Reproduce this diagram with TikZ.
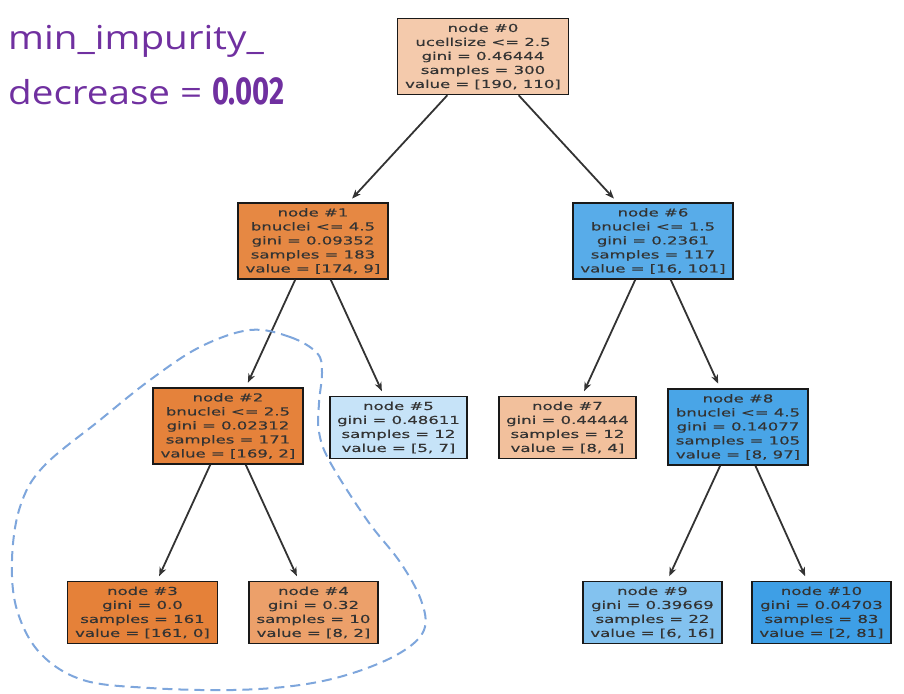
\documentclass[tikz,border=0pt]{standalone}
\usepackage{fontspec}
\usetikzlibrary{arrows.meta}
\newfontfamily\treefont[FakeStretch=1.5,FakeBold=0.4]{DejaVu Sans}
\newfontfamily\notefont[FakeStretch=1.17]{Open Sans}
\newfontfamily\numfont[FakeStretch=0.75]{Fira Sans}
\definecolor{notepurple}{HTML}{7030A0}
\definecolor{edgegray}{HTML}{333333}
\definecolor{blobblue}{HTML}{7EA6DC}
\definecolor{c0}{HTML}{F4CAAC}
\definecolor{c1}{HTML}{E68843}
\definecolor{c2}{HTML}{E5823B}
\definecolor{c3}{HTML}{E58139}
\definecolor{c4}{HTML}{ECA06A}
\definecolor{c5}{HTML}{C6E3F8}
\definecolor{c6}{HTML}{58ACE9}
\definecolor{c7}{HTML}{F2C09C}
\definecolor{c8}{HTML}{49A5E7}
\definecolor{c9}{HTML}{83C2EF}
\definecolor{c10}{HTML}{3E9FE6}
\tikzset{
  treebox/.style={draw=black!90, line width=1.7pt, align=center, text=black!80,
    inner xsep=7.5pt, inner ysep=5pt,
    font=\treefont\fontsize{11}{14}\selectfont},
  treeedge/.style={draw=edgegray, line width=1.8pt, shorten >=5pt,
    -{Stealth[length=9pt,width=7pt]}},
  note/.style={text=notepurple, anchor=base west, inner sep=0pt}
}
\begin{document}
\begin{tikzpicture}[x=1pt,y=-1pt]
\useasboundingbox (0,0) rectangle (904,693);

% heading
\node[note, font=\notefont\fontsize{33}{33}\selectfont] (h1) at (8,49) {min\_impurity\_};
\node[note, font=\notefont\fontsize{33}{33}\selectfont] (h2) at (8,104)
  {decrease = {\numfont\bfseries\fontsize{39}{39}\selectfont 0.002}};

% tree nodes
\node[treebox, fill=c0] (n0) at (483,56.5) {node \#0\\ucellsize <= 2.5\\gini = 0.46444\\samples = 300\\value = [190, 110]};
\node[treebox, fill=c1] (n1) at (313,241) {node \#1\\bnuclei <= 4.5\\gini = 0.09352\\samples = 183\\value = [174, 9]};
\node[treebox, fill=c6] (n6) at (653,241) {node \#6\\bnuclei <= 1.5\\gini = 0.2361\\samples = 117\\value = [16, 101]};
\node[treebox, fill=c2] (n2) at (228,426) {node \#2\\bnuclei <= 2.5\\gini = 0.02312\\samples = 171\\value = [169, 2]};
\node[treebox, fill=c5] (n5) at (398.5,427.5) {node \#5\\gini = 0.48611\\samples = 12\\value = [5, 7]};
\node[treebox, fill=c7] (n7) at (567.5,427.5) {node \#7\\gini = 0.44444\\samples = 12\\value = [8, 4]};
\node[treebox, fill=c8] (n8) at (738,427) {node \#8\\bnuclei <= 4.5\\gini = 0.14077\\samples = 105\\value = [8, 97]};
\node[treebox, fill=c3] (n3) at (142.5,612.5) {node \#3\\gini = 0.0\\samples = 161\\value = [161, 0]};
\node[treebox, fill=c4] (n4) at (313.5,612.5) {node \#4\\gini = 0.32\\samples = 10\\value = [8, 2]};
\node[treebox, fill=c9] (n9) at (652.5,612.5) {node \#9\\gini = 0.39669\\samples = 22\\value = [6, 16]};
\node[treebox, fill=c10] (n10) at (821.5,612.5) {node \#10\\gini = 0.04703\\samples = 83\\value = [2, 81]};

% edges
\foreach \p/\c in {n0/n1, n0/n6, n1/n2, n1/n5, n6/n7, n6/n8, n2/n3, n2/n4, n8/n9, n8/n10}
  \draw[treeedge] (\p) -- (\c);

% dashed outline around the left subtree
\draw[blobblue, line width=2pt, dash pattern=on 10pt off 6pt]
  plot[smooth cycle, tension=0.6] coordinates {
    (250,330) (290,337) (317,353) (322,372) (319,403) (319,432) (330,462)
    (367,520) (400,562) (421,600) (424,630) (400,653) (353,673) (300,685)
    (233,690) (150,688) (83,680) (40,653) (17,610) (12,560) (20,507)
    (43,467) (100,420) (150,380) (200,347)};
\end{tikzpicture}
\end{document}
